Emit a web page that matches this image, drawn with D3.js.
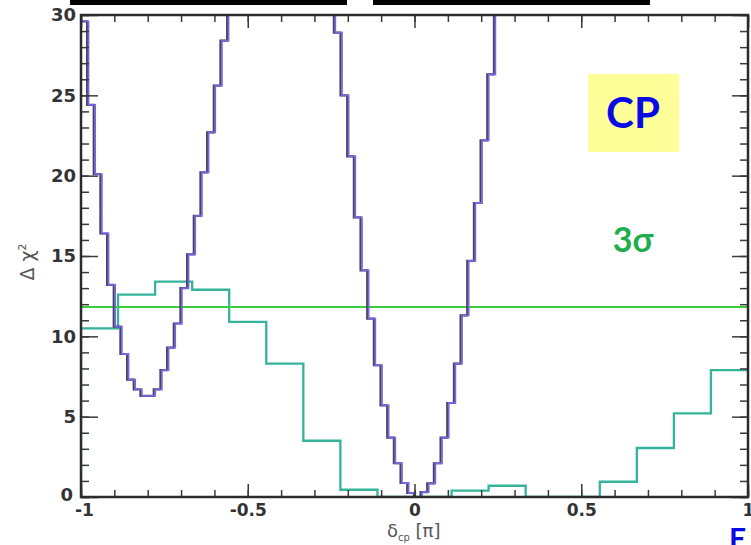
<!DOCTYPE html>
<html>
<head>
<meta charset="utf-8">
<script src="https://cdn.jsdelivr.net/npm/d3@7"></script>
<style>
  body { margin: 0; background: #fff; }
  svg { display: block; }
</style>
</head>
<body>
<div id="chart"></div>
<script>
// purple: 100 bins of 0.02 from -1 to 1 (values above 30 run off the top)
var purpleChi2 = [
    29.6, 24.4, 20.1, 16.4, 13.2, 10.6, 8.9, 7.3, 6.7, 6.3,
    6.3, 6.7, 7.9, 9.3, 10.8, 13.0, 15.1, 17.5, 20.2, 22.7,
    25.6, 28.4, 31.3, 34.0, 36.5, 38.7, 40.5, 41.9, 42.9, 43.4,
    43.5, 43.1, 42.2, 40.9, 39.2, 37.0, 35.0, 32.7, 28.9, 25.0,
    21.2, 17.4, 14.1, 11.1, 8.2, 5.7, 3.7, 2.1, 0.87, 0.25,
    0.0, 0.3, 0.85, 2.1, 3.7, 5.85, 8.3, 11.3, 14.7, 18.3,
    22.2, 26.3, 30.6, 35.2, 39.8, 44.1, 48.0, 51.3, 54.2, 56.5,
    58.3, 59.4, 60.0, 60.1, 59.6, 58.6, 57.1, 55.2, 53.0, 50.5,
    47.9, 45.3, 42.8, 40.5, 38.4, 36.6, 35.1, 33.9, 33.0, 32.4,
    32.0, 31.8, 31.7, 31.6, 31.5, 31.3, 31.0, 30.7, 30.4, 30.2
];

// teal: 18 bins of 1/9 from -1 to 1
var tealChi2 = [10.5, 12.6, 13.4, 12.9, 10.9, 8.3, 3.5, 0.45, 0.0,
                0.0, 0.4, 0.7, 0.0, 0.0, 0.95, 3.05, 5.2, 7.9];

var threeSigma = 11.83;

var xMajor = [-1, -0.5, 0, 0.5, 1];
var xMinor = d3.range(-10, 11).map(function (d) { return d / 10; });
var yMajor = [0, 5, 10, 15, 20, 25, 30];
var yMinor = d3.range(0, 31);

(function () {
    var width = 751,
        height = 545;

    var svg = d3.select("#chart")
        .append("svg")
        .attr("width", width)
        .attr("height", height);

    var left = 81, right = 748, top = 15, bottom = 497;

    var x = d3.scaleLinear().domain([-1, 1]).range([left, right]);
    var y = d3.scaleLinear().domain([0, 30]).range([bottom, top]);

    // bits of the slide frame at the very top
    svg.append("rect").attr("x", 70).attr("y", 0).attr("width", 277).attr("height", 5).attr("fill", "#000");
    svg.append("rect").attr("x", 373).attr("y", 0).attr("width", 277).attr("height", 5).attr("fill", "#000");

    svg.append("defs").append("clipPath")
        .attr("id", "plot-clip")
        .append("rect")
        .attr("x", left)
        .attr("y", top)
        .attr("width", right - left)
        .attr("height", bottom - top);

    var plot = svg.append("g").attr("clip-path", "url(#plot-clip)");

    var step = d3.line()
        .x(function (d) { return x(d[0]); })
        .y(function (d) { return y(d[1]); })
        .curve(d3.curveStepAfter);

    function histPoints(vals, startWithZero) {
        var w = 2 / vals.length;
        var pts = startWithZero ? [[-1, 0]] : [];
        vals.forEach(function (v, i) {
            pts.push([-1 + i * w, v]);
        });
        pts.push([1, vals[vals.length - 1]]);
        return pts;
    }

    // teal
    plot.append("path")
        .attr("d", step(histPoints(tealChi2, true)))
        .attr("fill", "none")
        .attr("stroke", "#34b49c")
        .attr("stroke-width", 2.3);

    // 3 sigma line
    plot.append("line")
        .attr("x1", left).attr("x2", right)
        .attr("y1", y(threeSigma)).attr("y2", y(threeSigma))
        .attr("stroke", "#3ccd3c")
        .attr("stroke-width", 2);

    // purple with dark edge
    var pp = step(histPoints(purpleChi2, false));
    plot.append("path")
        .attr("d", pp)
        .attr("transform", "translate(-0.6,0)")
        .attr("fill", "none")
        .attr("stroke", "#4a4258")
        .attr("stroke-width", 2.2);
    plot.append("path")
        .attr("d", pp)
        .attr("transform", "translate(0.8,0)")
        .attr("fill", "none")
        .attr("stroke", "#7468e0")
        .attr("stroke-width", 1.8);

    // ticks, all pointing inward
    function tickStyle(g) {
        g.select(".domain").remove();
        g.selectAll(".tick line").attr("stroke", "#3a3a3a").attr("stroke-width", 1.5);
        g.selectAll(".tick text")
            .attr("fill", "#333")
            .style("font-family", "'DejaVu Sans', sans-serif")
            .style("font-weight", "bold");
    }

    svg.append("g").attr("transform", "translate(0," + bottom + ")")
        .call(d3.axisBottom(x).tickValues(xMinor).tickSize(-7).tickFormat(""))
        .call(tickStyle);
    var xLab = svg.append("g").attr("transform", "translate(0," + bottom + ")")
        .call(d3.axisBottom(x).tickValues(xMajor).tickSize(-13).tickPadding(7)
            .tickFormat(function (d) { return String(d); }))
        .call(tickStyle);
    xLab.selectAll(".tick text").style("font-size", "17px");
    xLab.selectAll(".tick text").filter(function (d) { return d === -1; }).attr("dx", 3);

    svg.append("g").attr("transform", "translate(0," + top + ")")
        .call(d3.axisTop(x).tickValues(xMinor).tickSize(-7).tickFormat(""))
        .call(tickStyle);
    svg.append("g").attr("transform", "translate(0," + top + ")")
        .call(d3.axisTop(x).tickValues(xMajor).tickSize(-13).tickFormat(""))
        .call(tickStyle);

    svg.append("g").attr("transform", "translate(" + left + ",0)")
        .call(d3.axisLeft(y).tickValues(yMinor).tickSize(-8).tickFormat(""))
        .call(tickStyle);
    var yLab = svg.append("g").attr("transform", "translate(" + left + ",0)")
        .call(d3.axisLeft(y).tickValues(yMajor).tickSize(-17).tickPadding(5)
            .tickFormat(function (d) { return String(d); }))
        .call(tickStyle);
    yLab.selectAll(".tick text").style("font-size", "18px");
    yLab.selectAll(".tick text").filter(function (d) { return d === 0; }).attr("dx", -3).attr("dy", "0.2em");

    svg.append("g").attr("transform", "translate(" + right + ",0)")
        .call(d3.axisRight(y).tickValues(yMinor).tickSize(-8).tickFormat(""))
        .call(tickStyle);
    svg.append("g").attr("transform", "translate(" + right + ",0)")
        .call(d3.axisRight(y).tickValues(yMajor).tickSize(-16).tickFormat(""))
        .call(tickStyle);

    // frame
    svg.append("rect")
        .attr("x", left).attr("y", top)
        .attr("width", right - left).attr("height", bottom - top)
        .attr("fill", "none")
        .attr("stroke", "#2b2b2b")
        .attr("stroke-width", 2.5);

    // axis titles
    var xt = svg.append("text")
        .attr("x", 387).attr("y", 537)
        .attr("fill", "#555")
        .style("font-family", "'DejaVu Sans', sans-serif")
        .style("font-size", "18px");
    xt.append("tspan").text("δ");
    xt.append("tspan").attr("dy", 4).style("font-size", "10px").text("cp");
    xt.append("tspan").attr("dy", -4).text(" [π]");

    var yt = svg.append("text")
        .attr("transform", "translate(34,262) rotate(-90)")
        .attr("text-anchor", "middle")
        .attr("fill", "#555")
        .style("font-family", "'DejaVu Sans', sans-serif")
        .style("font-size", "19px");
    yt.append("tspan").text("Δ χ");
    yt.append("tspan").attr("dy", -8).style("font-size", "11px").text("2");

    // annotations
    svg.append("rect")
        .attr("x", 588).attr("y", 74)
        .attr("width", 91).attr("height", 78)
        .attr("fill", "#ffff99");
    svg.append("text")
        .attr("x", 633).attr("y", 128)
        .attr("text-anchor", "middle")
        .attr("fill", "#0a0ae6")
        .style("font-family", "Lato, 'Noto Sans', sans-serif")
        .style("font-weight", "bold")
        .style("font-size", "42px")
        .text("CP");
    svg.append("text")
        .attr("x", 633).attr("y", 252)
        .attr("text-anchor", "middle")
        .attr("fill", "#1fae4b")
        .style("font-family", "Lato, 'Noto Sans', sans-serif")
        .style("font-weight", "bold")
        .style("font-size", "34px")
        .text("3σ");
    svg.append("text")
        .attr("x", 729).attr("y", 550)
        .attr("fill", "#0a0ae6")
        .style("font-family", "Lato, 'Noto Sans', sans-serif")
        .style("font-weight", "bold")
        .style("font-size", "30px")
        .text("E");
})();
</script>
</body>
</html>
